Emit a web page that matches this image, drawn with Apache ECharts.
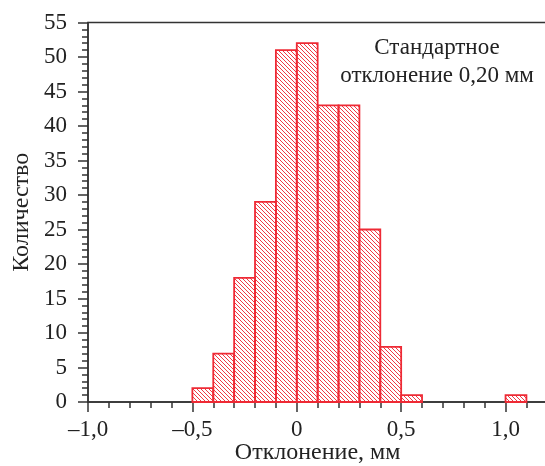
<!DOCTYPE html>
<html>
<head>
<meta charset="utf-8">
<script src="https://cdn.jsdelivr.net/npm/echarts@6/dist/echarts.min.js"></script>
<style>
  html, body { margin: 0; padding: 0; background: #fff; }
  #chart { width: 545px; height: 466px; }
</style>
</head>
<body>
<div id="chart"></div>
<script>
var binLeft = [-0.5, -0.4, -0.3, -0.2, -0.1, 0, 0.1, 0.2, 0.3, 0.4, 0.5, 1.0];
var counts = [2, 7, 18, 29, 51, 52, 43, 43, 25, 8, 1, 1];
var binWidth = 0.1;
var xMajorLabels = { '-1': '–1,0', '-0.5': '–0,5', '0': '0', '0.5': '0,5', '1': '1,0' };

var myChart = echarts.init(document.getElementById('chart'));

// diagonal hatch tile
var tile = document.createElement('canvas');
tile.width = 4; tile.height = 4;
var g = tile.getContext('2d');
g.strokeStyle = '#f03844';
g.lineWidth = 1;
g.beginPath();
g.moveTo(-1, -1); g.lineTo(5, 5);
g.moveTo(-1, 3); g.lineTo(1, 5);
g.moveTo(3, -1); g.lineTo(5, 1);
g.stroke();

var data = [];
for (var i = 0; i < binLeft.length; i++) {
  data.push([binLeft[i], binLeft[i] + binWidth, counts[i]]);
}

var font = 'Liberation Serif';
var lineColor = '#333';

var option = {
  animation: false,
  grid: {
    left: 88, right: -2.3, top: 22.5, bottom: 64,
    outerBoundsMode: 'none', containLabel: false,
    show: true, borderColor: lineColor, borderWidth: 1.5
  },
  xAxis: [
    {
      type: 'value', min: -1, max: 1.2, interval: 0.1,
      axisLine: { show: true, onZero: false, lineStyle: { color: lineColor, width: 1.5 } },
      axisTick: { show: true, length: 6, lineStyle: { color: lineColor, width: 1.5 } },
      axisLabel: { show: false },
      splitLine: { show: false }
    },
    {
      type: 'value', min: -1, max: 1.2, interval: 0.5, position: 'bottom',
      axisLine: { show: false, onZero: false },
      axisTick: { show: true, length: 10, lineStyle: { color: lineColor, width: 1.5 } },
      axisLabel: {
        margin: 16, fontFamily: font, fontSize: 23, color: '#222',
        formatter: function (v) {
          var k = String(Math.round(v * 10) / 10);
          return xMajorLabels[k] !== undefined ? xMajorLabels[k] : '';
        }
      },
      splitLine: { show: false },
      name: 'Отклонение, мм', nameLocation: 'middle', nameGap: 39, nameMoveOverlap: false,
      nameTextStyle: { fontFamily: font, fontSize: 24, color: '#222' }
    }
  ],
  yAxis: {
    type: 'value', min: 0, max: 55, interval: 5,
    axisLine: { show: true, onZero: false, lineStyle: { color: lineColor, width: 1.5 } },
    axisTick: { show: true, length: 10, lineStyle: { color: lineColor, width: 1.5 } },
    minorTick: { show: true, splitNumber: 5, length: 6, lineStyle: { color: lineColor, width: 1.5 } },
    axisLabel: { margin: 21, fontFamily: font, fontSize: 23, color: '#222' },
    splitLine: { show: false },
    name: 'Количество', nameLocation: 'middle', nameGap: 54, nameMoveOverlap: false,
    nameTextStyle: { fontFamily: font, fontSize: 24, color: '#222' }
  },
  graphic: [
    {
      type: 'text', x: 437, y: 34,
      style: {
        text: 'Стандартное\nотклонение 0,20 мм',
        fontFamily: font, fontSize: 23, lineHeight: 28,
        fill: '#222', align: 'center', verticalAlign: 'top'
      }
    }
  ],
  series: [
    {
      type: 'custom',
      xAxisIndex: 0,
      data: data,
      renderItem: function (params, api) {
        var p0 = api.coord([api.value(0), api.value(2)]);
        var p1 = api.coord([api.value(1), 0]);
        return {
          type: 'rect',
          shape: { x: p0[0], y: p0[1], width: p1[0] - p0[0], height: p1[1] - p0[1] },
          style: { fill: { image: tile, repeat: 'repeat' }, stroke: '#ee2a35', lineWidth: 1.8 }
        };
      },
      z: 1
    }
  ]
};

myChart.setOption(option);
window.addEventListener('resize', function () {
  myChart.resize();
});
</script>
</body>
</html>
